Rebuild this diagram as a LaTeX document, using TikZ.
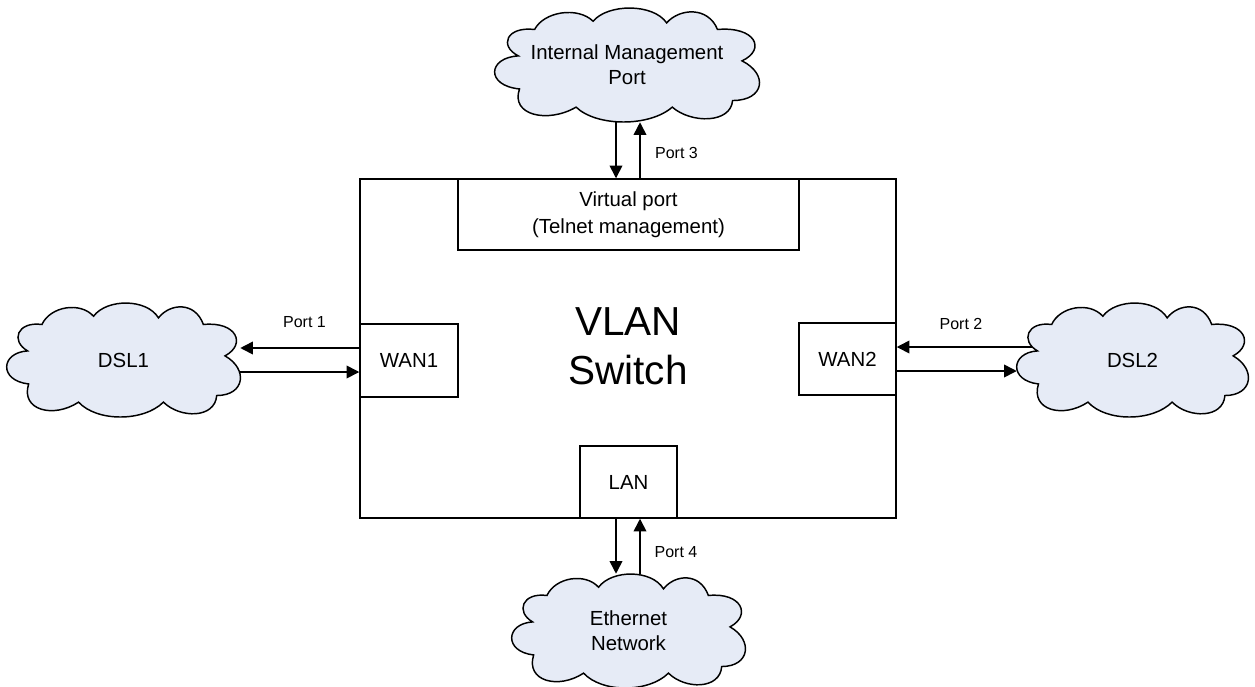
\documentclass[tikz,border=0pt]{standalone}
\usepackage{fontspec}
\setmainfont{Liberation Sans}
\usetikzlibrary{arrows.meta}

\definecolor{cloudblue}{HTML}{E6EBF6}
\tikzset{
	box/.style={draw, line width=1.1pt, fill=white, inner sep=0pt, align=center, font=\fontsize{15.3}{20}\selectfont},
	cloudline/.style={draw, fill=cloudblue, line width=1.1pt},
	cloudlabel/.style={inner sep=0pt, align=center, font=\fontsize{15.3}{19}\selectfont},
	portlabel/.style={inner sep=0pt, font=\fontsize{12}{14}\selectfont},
	link/.style={-{Triangle[length=9.5pt,width=9.5pt]}, line width=1.2pt},
}

% cloud outline in a 700 x 345 box, then a node of the same size on top
\newcommand{\cloudnode}[6]{
	\begin{scope}[shift={(#2,#3)}, xscale=#4/700, yscale=#5/345]
		\path[cloudline] (62,145) .. controls (10,115) and (30,55) .. (105,65)
			.. controls (130,10) and (220,-5) .. (260,40)
			.. controls (300,-14) and (420,-14) .. (455,45)
			.. controls (490,0) and (565,-5) .. (590,65)
			.. controls (690,55) and (720,125) .. (655,160)
			.. controls (725,200) and (715,280) .. (630,280)
			.. controls (625,350) and (520,350) .. (470,300)
			.. controls (410,360) and (270,360) .. (215,300)
			.. controls (140,350) and (40,325) .. (65,245)
			.. controls (-25,235) and (-20,150) .. (62,145) -- cycle;
	\end{scope}
	\node[cloudlabel, minimum width=0.75pt*#4, minimum height=0.75pt*#5] (#1) at (#2+#4/2,#3+#5/2) {#6};
}

\begin{document}
\begin{tikzpicture}[x=0.75pt, y=-0.75pt]
	\useasboundingbox (0,0) rectangle (1255,686);

	% switch and its ports
	\node[box, minimum width=402pt, minimum height=254.25pt] (switch) at (628,348.5) {};
	\node[box, minimum width=255.75pt, minimum height=53.25pt] (virtual) at (628.5,214.5) {Virtual port\\(Telnet management)};
	\node[box, minimum width=73.5pt, minimum height=54.75pt] (wanone) at (409,360.5) {WAN1};
	\node[box, minimum width=72.75pt, minimum height=54pt] (wantwo) at (847.5,359) {WAN2};
	\node[box, minimum width=72.75pt, minimum height=54pt] (lan) at (628.5,482) {LAN};
	\node[inner sep=0pt, align=center, font=\fontsize{30.4}{36.75}\selectfont] (vlan) at (628,346) {VLAN\\Switch};

	% clouds
	\cloudnode{dslone}{7}{303}{233}{114}{DSL1}
	\cloudnode{dsltwo}{1017}{303}{231}{114}{DSL2}
	\cloudnode{mgmt}{495}{8}{264}{114}{Internal Management\\Port}
	\cloudnode{ether}{512}{574}{233}{114}{Ethernet\\Network}

	% links
	\draw[link] ([shift={(0,-12.5)}]wanone.west) -- ([shift={(0,-12)}]dslone.east);
	\draw[link] ([shift={(0,12)}]dslone.east) -- ([shift={(0,11.5)}]wanone.west);
	\draw[link] ([shift={(15,-13)}]dsltwo.west) -- ([shift={(0,-12)}]wantwo.east);
	\draw[link] ([shift={(0,12)}]wantwo.east) -- ([shift={(0,11)}]dsltwo.west);
	\draw[link] ([shift={(-11,0)}]mgmt.south) -- ([shift={(-12.5,0)}]virtual.north);
	\draw[link] ([shift={(11.5,0)}]virtual.north) -- ([shift={(13,0)}]mgmt.south);
	\draw[link] ([shift={(-12.5,0)}]lan.south) -- ([shift={(-12.5,0)}]ether.north);
	\draw[link] ([shift={(11.5,0)}]ether.north) -- ([shift={(11.5,0)}]lan.south);

	\node[portlabel] (portone) at (304.5,322) {Port 1};
	\node[portlabel] (porttwo) at (961,324) {Port 2};
	\node[portlabel] (portthree) at (676.5,153) {Port 3};
	\node[portlabel] (portfour) at (676,552) {Port 4};
\end{tikzpicture}
\end{document}
